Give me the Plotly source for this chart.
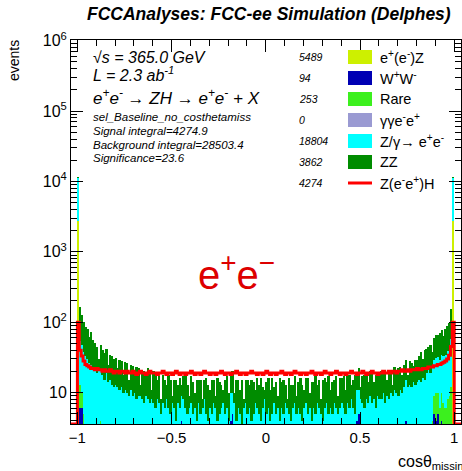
import numpy as np
import plotly.graph_objects as go

# ---------------- data ----------------
bin_low = -1.0
bin_high = 1.0
n_bins = 200

# Z/gamma -> e+e- (all 200 bins)
zgam_counts = [8600,
    41, 37, 33, 31, 27, 26, 23, 22, 21, 19, 20, 17, 18, 15, 16, 14, 15, 13, 12, 13,
    12, 11, 12, 10, 11, 10, 9, 11, 9, 10, 8, 9, 9, 8, 7, 9, 8, 7, 8, 7,
    6, 8, 7, 5, 7, 6, 8, 6, 5, 7, 6, 4, 7, 6, 5, 8, 6, 5, 6, 7,
    5, 6, 4, 7, 5, 6, 8, 5, 4, 6, 5, 7, 6, 4, 5, 6, 7, 5, 6, 4,
    6, 5, 7, 4, 6, 5, 3, 6, 7, 5, 6, 4, 5, 7, 6, 5, 4, 6, 8, 5,
    6, 4, 5, 7, 5, 6, 4, 6, 5, 7, 6, 5, 4, 6, 7, 5, 6, 5, 4, 6,
    7, 5, 6, 4, 6, 5, 7, 6, 5, 4, 6, 7, 5, 6, 5, 7, 6, 5, 6, 7,
    6, 5, 7, 6, 8, 6, 5, 7, 6, 8, 7, 6, 8, 7, 9, 7, 8, 6, 9, 8,
    8, 10, 7, 9, 8, 10, 9, 11, 10, 9, 11, 10, 12, 11, 12, 13, 12, 14, 13, 14,
    15, 14, 16, 15, 17, 18, 17, 19, 20, 21, 22, 23, 24, 26, 28, 31, 34, 45,
    8600]

# ZZ (all 200 bins)
zz_counts = [30,
    109, 81, 64, 52, 50, 36, 47, 33, 29, 26, 10, 27, 22, 21, 22, 11, 19, 20, 18, 18,
    10, 18, 16, 8, 16, 16, 6, 14, 15, 9, 15, 13, 4, 13, 13, 8, 14, 12, 3, 13,
    12, 7, 10, 3, 11, 9, 5, 12, 10, 2, 9, 11, 6, 10, 4, 9, 12, 8, 3, 10,
    9, 4, 11, 8, 10, 2, 7, 11, 9, 5, 10, 8, 3, 12, 9, 7, 4, 10, 11, 6,
    8, 10, 3, 11, 9, 6, 12, 2, 8, 10, 7, 11, 9, 4, 10, 8, 12, 6, 3, 9,
    10, 7, 11, 5, 9, 3, 12, 8, 10, 6, 2, 11, 9, 7, 10, 4, 8, 11, 9, 5,
    9, 11, 4, 10, 8, 12, 6, 9, 3, 11, 10, 7, 12, 5, 9, 8, 11, 4, 10, 9,
    11, 6, 10, 12, 5, 9, 13, 8, 11, 4, 10, 12, 9, 7, 11, 13, 6, 12, 10, 11,
    12, 9, 14, 6, 13, 11, 4, 12, 10, 13, 12, 8, 13, 14, 6, 15, 14, 10, 16, 15,
    18, 24, 14, 25, 23, 24, 29, 15, 31, 34, 33, 41, 43, 30, 47, 48, 55, 97,
    30]

# Signal Z(e-e+)H (all 200 bins)
signal_counts = [100,
    40, 33, 28, 25, 24, 23, 22, 22, 21, 22, 21, 21, 20, 21, 20, 20, 21, 20, 19, 20,
    20, 19, 20, 20, 19, 20, 19, 19, 20, 19, 18, 19, 20, 19, 19, 18, 19, 20, 19, 19,
    19, 18, 19, 19, 20, 19, 18, 19, 19, 18, 19, 20, 19, 18, 19, 19, 18, 19, 19, 20,
    19, 18, 19, 19, 18, 19, 20, 19, 19, 18, 19, 19, 18, 19, 19, 20, 19, 18, 19, 19,
    18, 19, 19, 20, 19, 18, 19, 19, 18, 19, 19, 20, 19, 19, 18, 19, 19, 18, 19, 20,
    19, 18, 19, 19, 18, 19, 19, 20, 19, 18, 19, 19, 18, 19, 20, 19, 19, 18, 19, 19,
    18, 19, 19, 20, 19, 18, 19, 19, 18, 19, 20, 19, 19, 18, 19, 19, 20, 19, 18, 19,
    19, 18, 19, 19, 20, 19, 19, 18, 19, 19, 20, 19, 18, 19, 19, 20, 19, 19, 18, 19,
    19, 20, 19, 19, 20, 19, 20, 20, 19, 20, 20, 21, 20, 20, 21, 20, 21, 21, 21, 22,
    21, 21, 22, 22, 22, 23, 23, 23, 24, 24, 25, 25, 26, 27, 28, 30, 34, 45,
    100]

# sparse backgrounds: (bin index, count)
eez_bins = [0, 1, 2, 197, 198, 199]
eez_vals = [2700, 2, 3, 2, 3, 2700]
ww_bins = [1, 2, 3, 55, 81, 82, 148, 149, 174, 189, 190, 191, 193]
ww_vals = [4, 3, 2, 4, 4, 5, 4, 5, 4, 5, 4, 5, 4]
rare_bins = [1, 2, 3, 4, 5, 7, 12, 15, 185, 186, 187, 188, 189, 190, 191, 192, 193, 194, 195, 196, 197, 198]
rare_vals = [7, 4, 3, 2, 3, 2, 4, 3, 2, 3, 2, 4, 4, 6, 5, 6, 6, 7, 6, 8, 7, 9]
ggee_bins = []
ggee_vals = []

legend_labels = ["e<sup>+</sup>(e<sup>-</sup>)Z", "W<sup>+</sup>W<sup>-</sup>", "Rare",
                 "γγe<sup>-</sup>e<sup>+</sup>", "Z/γ→ e<sup>+</sup>e<sup>-</sup>", "ZZ",
                 "Z(e<sup>-</sup>e<sup>+</sup>)H"]
legend_yields = ["5489", "94", "253", "0", "18804", "3862", "4274"]
x_tickvals = [-1, -0.5, 0, 0.5, 1]
x_ticktext = ["−1", "−0.5", "0", "0.5", "1"]
y_tickvals = [10, 1e2, 1e3, 1e4, 1e5, 1e6]
y_ticktext = ["10", "10<sup>2</sup>", "10<sup>3</sup>", "10<sup>4</sup>", "10<sup>5</sup>", "10<sup>6</sup>"]

# ---------------- build ----------------
edges = np.linspace(bin_low, bin_high, n_bins + 1)
centers = 0.5 * (edges[:-1] + edges[1:])
width = edges[1] - edges[0]

def expand(bins, vals):
    a = np.zeros(n_bins)
    for b, v in zip(bins, vals):
        a[b] = v
    return a

series = [
    (expand(eez_bins, eez_vals), "#cdf000"),
    (expand(ww_bins, ww_vals), "#0000b4"),
    (expand(rare_bins, rare_vals), "#3cf01e"),
    (expand(ggee_bins, ggee_vals), "#9a9ad2"),
    (np.array(zgam_counts, float), "#00ffff"),
    (np.array(zz_counts, float), "#008c00"),
]
sig_color = "#ff0000"

W, H = 462, 471
L, R, T, B = 71, 1, 40, 47
YMIN_LOG, YMAX_LOG = 0.553, 6.01
XR = [-1.034, 1.036]
ymin_val = 10 ** YMIN_LOG

fig = go.Figure()
for vals, col in series:
    fig.add_trace(go.Bar(x=centers, y=vals, width=width, marker=dict(color=col, line=dict(width=0)),
                         showlegend=False, hoverinfo="skip"))

sx = [XR[0]] + list(edges[:-1]) + [edges[-1], XR[1]]
sy = [ymin_val] + list(signal_counts) + [ymin_val, ymin_val]
fig.add_trace(go.Scatter(x=sx, y=sy, mode="lines", line=dict(shape="hv", color=sig_color, width=3),
                         showlegend=False, hoverinfo="skip"))

FONT = "Liberation Sans, Arial, Helvetica, sans-serif"
pw, ph = W - L - R, H - T - B
def px(x):
    return (x - L) / pw
def py(y):
    return (H - B - y) / ph

ann = []
def text(x, y, s, size, color="black", xanchor="left", yanchor="middle", angle=0):
    ann.append(dict(x=px(x), y=py(y), xref="paper", yref="paper", text=s, showarrow=False,
                    xanchor=xanchor, yanchor=yanchor, textangle=angle,
                    font=dict(family=FONT, size=size, color=color)))

text(269, 14, "<b><i>FCCAnalyses: FCC-ee Simulation (Delphes)</i></b>", 17.5, xanchor="center")
text(14, 61, "events", 14, xanchor="center", angle=-90)
text(396, 462, "cosθ<sub>missing</sub>", 16)
text(91, 57, "<i>√s = 365.0 GeV</i>", 16)
text(91, 74, "<i>L = 2.3 ab<sup>-1</sup></i>", 16)
text(91, 97, "<i>e<sup>+</sup>e<sup>-</sup> → ZH → e<sup>+</sup>e<sup>-</sup> + X</i>", 17)
for yy, s in zip([117, 131, 145, 158], ["sel_Baseline_no_costhetamiss", "Signal integral=4274.9",
                                        "Background integral=28503.4", "Significance=23.6"]):
    text(91, yy, "<i>" + s + "</i>", 11.5)
text(236, 272, "e<sup>+</sup>e<sup>−</sup>", 40, color="#dd0000", xanchor="center")

shapes = []
leg_rows = [57, 78, 99, 120, 141, 162, 183]
leg_cols = [c for _, c in series]
for i, (yy, lab, yld) in enumerate(zip(leg_rows, legend_labels, legend_yields)):
    text(297, yy, "<i>" + yld + "</i>", 10.5)
    text(378, yy, lab, 14.5)
    if i < 6:
        shapes.append(dict(type="rect", xref="paper", yref="paper", x0=px(348), x1=px(372),
                           y0=py(yy + 7), y1=py(yy - 7), fillcolor=leg_cols[i], line=dict(width=0)))
    else:
        shapes.append(dict(type="line", xref="paper", yref="paper", x0=px(348), x1=px(372),
                           y0=py(yy), y1=py(yy), line=dict(color=sig_color, width=3)))

minor_y = [m * 10 ** k for k in range(0, 6) for m in range(2, 10)]

fig.update_layout(
    width=W, height=H, margin=dict(l=L, r=R, t=T, b=B, pad=0, autoexpand=False),
    paper_bgcolor="white", plot_bgcolor="white",
    barmode="stack", bargap=0, showlegend=False,
    annotations=ann, shapes=shapes,
    font=dict(family=FONT, color="black"),
    xaxis=dict(range=XR, tickmode="array", tickvals=x_tickvals, ticktext=x_ticktext,
               ticks="inside", ticklen=12, tickcolor="black", showline=True, linecolor="black",
               linewidth=1, mirror="ticks", showgrid=False, zeroline=False, automargin=False,
               tickfont=dict(size=15, family=FONT),
               minor=dict(ticks="inside", ticklen=6, dtick=0.1, tick0=0, tickcolor="black", showgrid=False)),
    yaxis=dict(type="log", range=[YMIN_LOG, YMAX_LOG], tickmode="array", tickvals=y_tickvals,
               ticktext=y_ticktext, ticks="inside", ticklen=12, tickcolor="black", showline=True,
               linecolor="black", linewidth=1, mirror="ticks", showgrid=False, zeroline=False,
               automargin=False, tickfont=dict(size=16, family=FONT),
               minor=dict(ticks="inside", ticklen=6, tickmode="array", tickvals=minor_y,
                          tickcolor="black", showgrid=False)),
)

fig.write_html("out.html", config={"displayModeBar": False},
               post_script="document.body.style.margin='0';document.body.style.padding='0';")
